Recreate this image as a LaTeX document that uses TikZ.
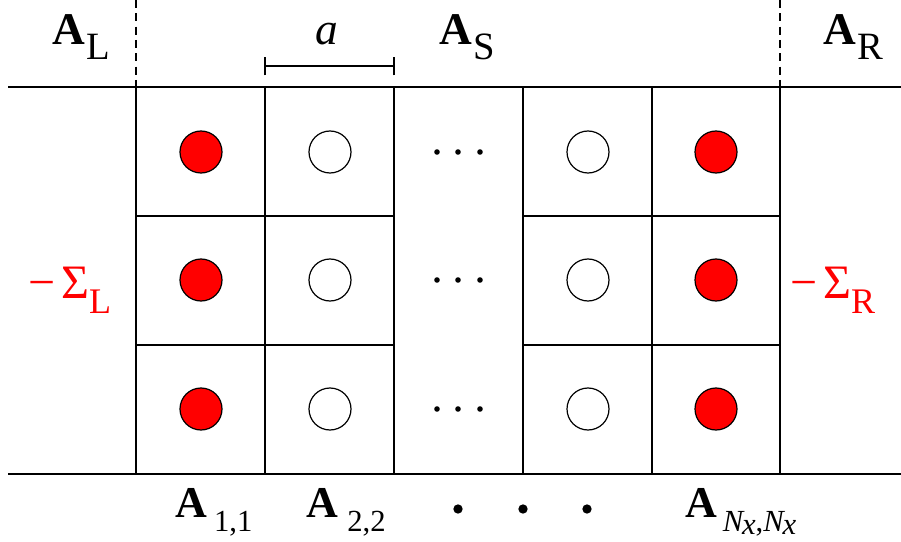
\documentclass[tikz,border=0pt]{standalone}
\usepackage{fontspec}
\setmainfont{Liberation Serif}
\newcommand{\blockA}[3]{\textbf{A}\kern#3\raisebox{-0.33em}{\fontsize{#2}{#2}\selectfont #1}}
\newcommand{\selfE}[1]{−\kern4pt Σ\raisebox{-0.33em}{\fontsize{27pt}{27pt}\selectfont #1}}
\begin{document}
\begin{tikzpicture}[x=0.75pt,y=-0.75pt,
  grid/.style={line width=1.1pt,black},
  bound/.style={line width=1.1pt,black,dashed,dash pattern=on 6pt off 4pt},
  site/.style={circle,draw=black,line width=0.9pt,minimum size=31.5pt,inner sep=0pt},
  lead/.style={site,fill=red},
  bulk/.style={site,fill=white},
  ddot/.style={circle,fill=black,minimum size=4.2pt,inner sep=0pt},
  bdot/.style={circle,fill=black,minimum size=7pt,inner sep=0pt},
  head/.style={anchor=base,font=\fontsize{34pt}{34pt}\selectfont,inner sep=0pt},
  foot/.style={anchor=base,font=\fontsize{33pt}{33pt}\selectfont,inner sep=0pt},
  self/.style={anchor=base,text=red,font=\fontsize{36pt}{36pt}\selectfont,inner sep=0pt}]
\useasboundingbox (0,0) rectangle (901,542);

% outer boundaries of the strip
\draw[grid] (8,87) -- (901,87);
\draw[grid] (8,474) -- (901,474);

% vertical cell walls
\foreach \x in {136,265,394,523,652,780} \draw[grid] (\x,87) -- (\x,474);
% lead / device interfaces
\draw[bound] (136,0) -- (136,87);
\draw[bound] (780,0) -- (780,87);

% horizontal cell walls (not in the elided column)
\foreach \y in {216,345} {
  \draw[grid] (136,\y) -- (394,\y);
  \draw[grid] (523,\y) -- (780,\y);
}

% sites
\foreach \r/\y in {1/152,2/280,3/409} {
  \node[lead] (l\r) at (201,\y) {};
  \node[bulk] (b\r) at (330,\y) {};
  \node[bulk] (c\r) at (588,\y) {};
  \node[lead] (r\r) at (716,\y) {};
  \node[ddot] (d\r a) at (437,\y) {};
  \node[ddot] (d\r b) at (458,\y) {};
  \node[ddot] (d\r c) at (480,\y) {};
}

% lattice constant bar
\coordinate (aL) at (265,66);
\coordinate (aR) at (394,66);
\draw[line width=0.9pt] (aL) -- (aR);
\draw[line width=0.9pt] ([yshift=-7]aL) -- ([yshift=7]aL);
\draw[line width=0.9pt] ([yshift=-7]aR) -- ([yshift=7]aR);
\node[head] (alab) at (327,45) {\textit{a}};

% region labels
\node[head] (AL) at (81,45) {\blockA{L}{29pt}{1pt}};
\node[head] (AS) at (467,45) {\blockA{S}{29pt}{1pt}};
\node[head] (AR) at (853,45) {\blockA{R}{29pt}{1pt}};

% self-energies
\node[self] (SL) at (70,298) {\selfE{L}};
\node[self] (SR) at (833,298) {\selfE{R}};

% block labels
\node[foot] (A11) at (214,517) {\blockA{1,1}{23pt}{5pt}};
\node[foot] (A22) at (346,517) {\blockA{2,2}{23pt}{7pt}};
\node[bdot] (e1) at (458,509) {};
\node[bdot] (e2) at (523,509) {};
\node[bdot] (e3) at (587,509) {};
\node[foot] (ANN) at (741,517) {\blockA{\textit{N\kern-1pt\raisebox{-0.1em}{x}},\textit{N\kern-1pt\raisebox{-0.1em}{x}}}{23pt}{4pt}};
\end{tikzpicture}
\end{document}
